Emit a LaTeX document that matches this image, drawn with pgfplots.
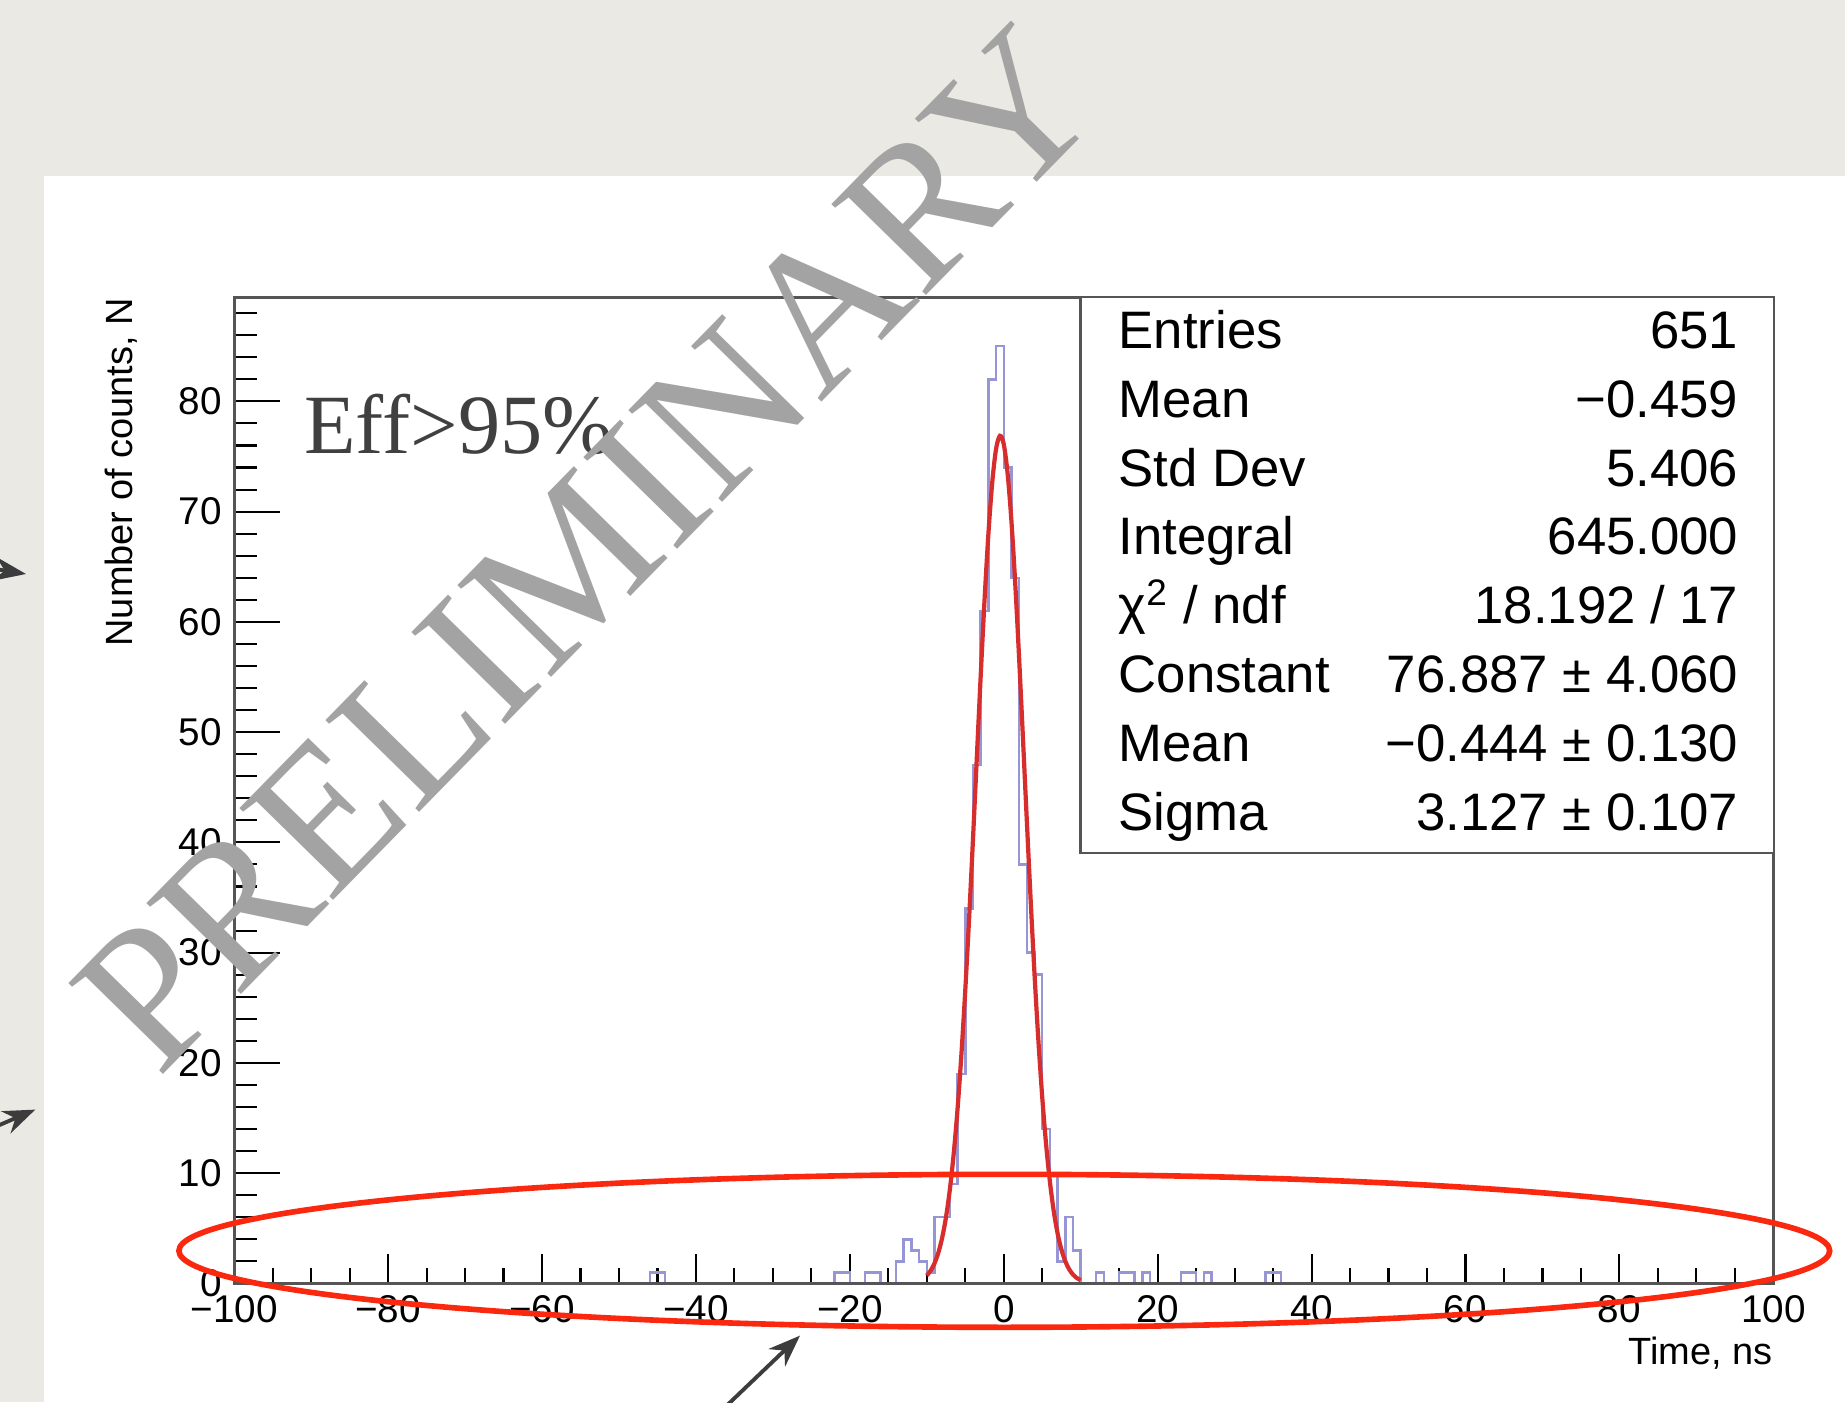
\documentclass[border=0pt]{standalone}
\usepackage{fontspec}
\setmainfont{Liberation Sans}
\newfontfamily\seriffont{Liberation Serif}
\usepackage{pgfplots}
\pgfplotsset{compat=1.18}
\usetikzlibrary{arrows.meta}
\definecolor{bg}{RGB}{235,233,227}
\definecolor{framegray}{RGB}{85,85,85}
\definecolor{histblue}{RGB}{150,150,215}
\definecolor{fitred}{RGB}{215,45,45}
\definecolor{ellred}{RGB}{250,40,15}
\definecolor{wmgray}{RGB}{163,163,163}
\definecolor{arrowgray}{RGB}{60,60,60}
\definecolor{effgray}{RGB}{64,64,64}
\begin{document}
\begin{tikzpicture}
\useasboundingbox (0,0) rectangle (18.45,14.02);
\clip (0,0) rectangle (18.45,14.02);
\fill[bg] (0,0) rectangle (18.45,14.02);
\fill[white] (0.435,-0.1) rectangle (18.6,12.255);

\begin{axis}[
  at={(2.342cm,1.186cm)}, anchor=south west,
  scale only axis, width=15.391cm, height=9.857cm,
  xmin=-100, xmax=100, ymin=0, ymax=89.4,
  axis line style={draw=framegray, line width=0.8pt},
  xtick={-100,-80,-60,-40,-20,0,20,40,60,80,100},
  xticklabels={−100,−80,−60,−40,−20,0,20,40,60,80,100},
  minor xtick={-95,-90,-85,-75,-70,-65,-55,-50,-45,-35,-30,-25,-15,-10,-5,5,10,15,25,30,35,45,50,55,65,70,75,85,90,95},
  ytick=\empty,
  xtick pos=bottom,
  tick align=inside,
  major tick length=0.295cm, minor tick length=0.15cm,
  tick style={draw=black, line width=0.6pt},
  xticklabel style={font=\fontsize{11}{13}\selectfont},
]
\addplot[const plot mark left, draw=histblue, line width=0.7pt, no marks] coordinates {
(-100,0)
(-46,1) (-44,0)
(-22,1) (-20,0)
(-18,1) (-16,0)
(-14,2) (-13,4) (-12,3) (-11,2) (-10,1)
(-9,6) (-8,6) (-7,9) (-6,19) (-5,34) (-4,47) (-3,61) (-2,82) (-1,85)
(0,74) (1,64) (2,38) (3,30) (4,28) (5,14) (6,10) (7,2) (8,6) (9,3)
(10,0)
(12,1) (13,0)
(15,1) (16,1) (17,0) (18,1) (19,0)
(23,1) (24,1) (25,0) (26,1) (27,0)
(34,1) (35,1) (36,0)
(100,0)
};
\addplot[draw=fitred, line width=1.2pt, no marks, smooth] coordinates {
(-10,0.721) (-9.5,1.160) (-9,1.821) (-8.5,2.784) (-8,4.149) (-7.5,6.029)
(-7,8.540) (-6.5,11.789) (-6,15.864) (-5.5,20.805) (-5,26.600) (-4.5,33.154)
(-4,40.277) (-3.5,47.697) (-3,55.052) (-2.5,61.943) (-2,67.934) (-1.5,72.627)
(-1,75.682) (-0.5,76.875) (0,76.116) (0.5,73.462) (1,69.112) (1.5,63.379)
(2,56.649) (2.5,49.361) (3,41.922) (3.5,34.707) (4,28.010) (4.5,22.032)
(5,16.894) (5.5,12.627) (6,9.199) (6.5,6.531) (7,4.522) (7.5,3.052)
(8,2.007) (8.5,1.286) (9,0.804) (9.5,0.490) (10,0.291)
};
\end{axis}

\begin{axis}[
  at={(2.342cm,1.186cm)}, anchor=south west,
  scale only axis, width=15.391cm, height=9.857cm,
  xmin=-100, xmax=100, ymin=0, ymax=89.4,
  axis line style={draw=framegray, line width=0.8pt},
  xtick=\empty,
  ytick={0,10,20,30,40,50,60,70,80},
  yticklabels={0,10,20,30,40,50,60,70,80},
  minor ytick={2,4,6,8,12,14,16,18,22,24,26,28,32,34,36,38,42,44,46,48,52,54,56,58,62,64,66,68,72,74,76,78,82,84,86,88},
  ytick pos=left,
  tick align=inside,
  major tick length=0.46cm, minor tick length=0.23cm,
  tick style={draw=black, line width=0.6pt},
  yticklabel style={font=\fontsize{11}{13}\selectfont},
]
\end{axis}

% stats box
\fill[white] (10.802,5.49) rectangle (17.733,11.043);
\draw[framegray, line width=0.8pt] (10.802,11.043) -- (10.802,5.49) -- (17.733,5.49);
\begin{scope}[every node/.style={inner sep=0pt, text height=1.38ex, text depth=0pt, font=\fontsize{15}{18}\selectfont}]
\foreach \lab/\val [count=\i from 0] in {{Entries}/{651}, {Mean}/{−0.459}, {Std Dev}/{5.406}, {Integral}/{645.000}, {χ\textsuperscript{2} / ndf}/{18.192 / 17}, {Constant}/{76.887 ± 4.060}, {Mean}/{−0.444 ± 0.130}, {Sigma}/{3.127 ± 0.107}}{
  \node[anchor=west] at (11.18,{10.666-0.689*\i}) {\lab};
  \node[anchor=east] at (17.39,{10.666-0.689*\i}) {\val};
}
\end{scope}

% axis titles
\node[rotate=90, anchor=east, inner sep=0pt, font=\fontsize{10.8}{13}\selectfont] at (1.21,11.043) {Number of counts, N};
\node[anchor=east, inner sep=0pt, font=\fontsize{10.8}{13}\selectfont] at (17.733,0.49) {Time, ns};

% annotation
\node[anchor=base west, inner sep=0pt, text=effgray, font=\seriffont\fontsize{24}{28}\selectfont] at (3.036,9.49) {Eff>95\%};

% watermark
\node[rotate=45.6, text=wmgray, inner sep=0pt, font=\seriffont\fontsize{57}{60}\selectfont] at (5.86,8.54) {PRELIMINARY};

% red ellipse
\draw[ellred, line width=1.6pt] (10.043,1.512) ellipse [x radius=8.254, y radius=0.765];

% arrows
\draw[arrowgray, line width=1.1pt, -{Stealth[length=0.32cm,width=0.24cm]}] (-0.6,8.42) -- (0.26,8.28);
\draw[arrowgray, line width=1.1pt, -{Stealth[length=0.32cm,width=0.24cm]}] (-0.4,2.60) -- (0.353,2.924);
\draw[arrowgray, line width=1.1pt, -{Stealth[length=0.32cm,width=0.24cm]}] (7.2,-0.1) -- (8.0,0.664);
\end{tikzpicture}
\end{document}
